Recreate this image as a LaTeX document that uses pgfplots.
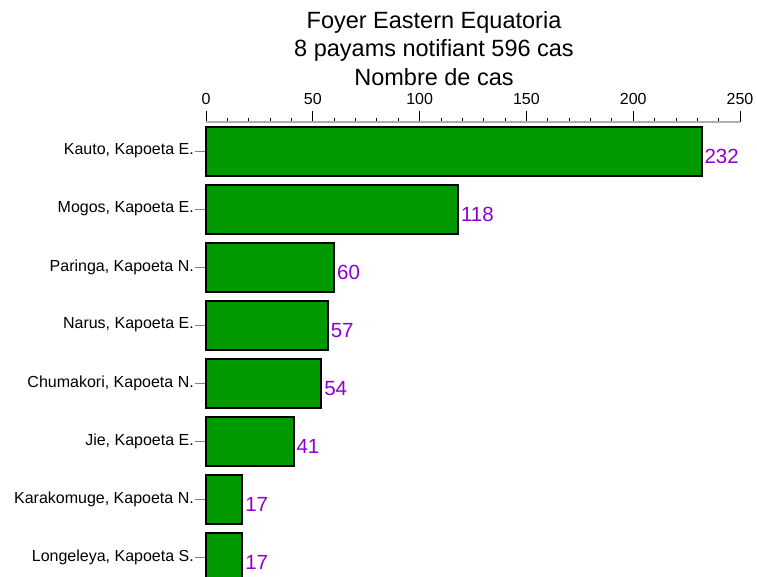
\documentclass[border=0pt]{standalone}
\usepackage{fontspec}
\setmainfont{Liberation Sans}
\usepackage{pgfplots}
\pgfplotsset{compat=1.18}
\definecolor{bargreen}{RGB}{0,153,0}
\definecolor{valpurple}{RGB}{140,0,210}
\definecolor{axgray}{RGB}{175,175,175}
\begin{document}
\begin{tikzpicture}[x=1pt,y=1pt]
\begin{axis}[
  at={(206pt,-122pt)}, anchor=north west,
  scale only axis, width=534pt, height=464pt,
  xmin=0, xmax=250, ymin=-0.5, ymax=7.5, y dir=reverse,
  axis x line=top, axis y line=left,
  axis line style={-},
  x axis line style={-, line width=1.6pt, draw=axgray},
  y axis line style={draw=none},
  tick align=outside,
  xtick={0,50,...,250}, minor x tick num=4,
  major tick length=11pt, minor tick length=4.5pt,
  xtick style={draw=black, line width=0.8pt},
  ytick style={draw=gray, line width=0.8pt},
  ytick={0,...,7},
  yticklabels={{Kauto, Kapoeta E.},{Mogos, Kapoeta E.},{Paringa, Kapoeta N.},{Narus, Kapoeta E.},{Chumakori, Kapoeta N.},{Jie, Kapoeta E.},{Karakomuge, Kapoeta N.},{Longeleya, Kapoeta S.}},
  ticklabel style={font=\fontsize{16}{19}\selectfont},
  /pgf/number format/assume math mode=true,
  xticklabel style={inner sep=1pt, yshift=5pt},
  yticklabel style={inner sep=1pt},
  xbar, bar width=49pt, bar shift=0pt,
  nodes near coords, point meta=explicit symbolic,
  nodes near coords style={anchor=west, inner sep=2pt, yshift=-5.5pt, text=valpurple, font=\fontsize{20.5}{24}\selectfont},
  clip=false,
]
\addplot[fill=bargreen, draw=black, line width=2pt] coordinates {(232,0) [232] (118,1) [118] (60,2) [60] (57,3) [57] (54,4) [54] (41,5) [41] (17,6) [17] (17,7) [17]};
\end{axis}
\node[font=\fontsize{23.5}{28}\selectfont, anchor=base, inner sep=0pt] at (434,-28) {Foyer Eastern Equatoria};
\node[font=\fontsize{23.5}{28}\selectfont, anchor=base, inner sep=0pt] at (434,-56.5) {8 payams notifiant 596 cas};
\node[font=\fontsize{23.5}{28}\selectfont, anchor=base, inner sep=0pt] at (434,-85) {Nombre de cas};
\pgfresetboundingbox
\useasboundingbox (0,0) rectangle (757,-576);
\end{tikzpicture}
\end{document}
